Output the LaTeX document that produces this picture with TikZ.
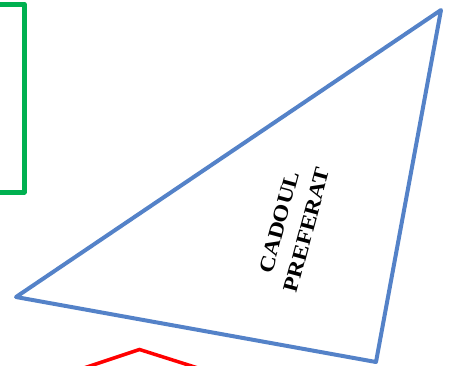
\documentclass[tikz,border=0pt]{standalone}
\usepackage{fontspec}
\setmainfont{Liberation Serif}
\newfontfamily\labelfont[FakeStretch=1.15]{Liberation Serif}
\definecolor{tribl}{RGB}{84,130,200}
\definecolor{boxgr}{RGB}{0,176,80}
\definecolor{shred}{RGB}{255,0,0}
\tikzset{
  triline/.style={draw=tribl,line width=4pt,line join=round},
  boxline/.style={draw=boxgr,line width=5pt,line join=round},
  redline/.style={draw=shred,line width=3.5pt,line join=miter},
  lbl/.style={font=\labelfont\bfseries\fontsize{21}{28.5}\selectfont,align=center,text=black,inner sep=0pt}
}
\begin{document}
\begin{tikzpicture}[x=1pt,y=1pt]
\useasboundingbox (0,0) rectangle (452,-365);
\clip (0,0) rectangle (452,-365);
\coordinate (tA) at (441,-10);
\coordinate (tB) at (16,-297);
\coordinate (tC) at (376,-362);
\draw[triline] (tA) -- (tB) -- (tC) -- cycle;
\draw[boxline] (-10,-4) rectangle (24,-192);
\coordinate (rL) at (63,-375);
\coordinate (rT) at (139.5,-349.5);
\coordinate (rR) at (220,-375);
\draw[redline] (rL) -- (rT) -- (rR);
\node[lbl,rotate=75] (label) at (293,-226) {CADOUL\\PREFERAT};
\end{tikzpicture}
\end{document}
